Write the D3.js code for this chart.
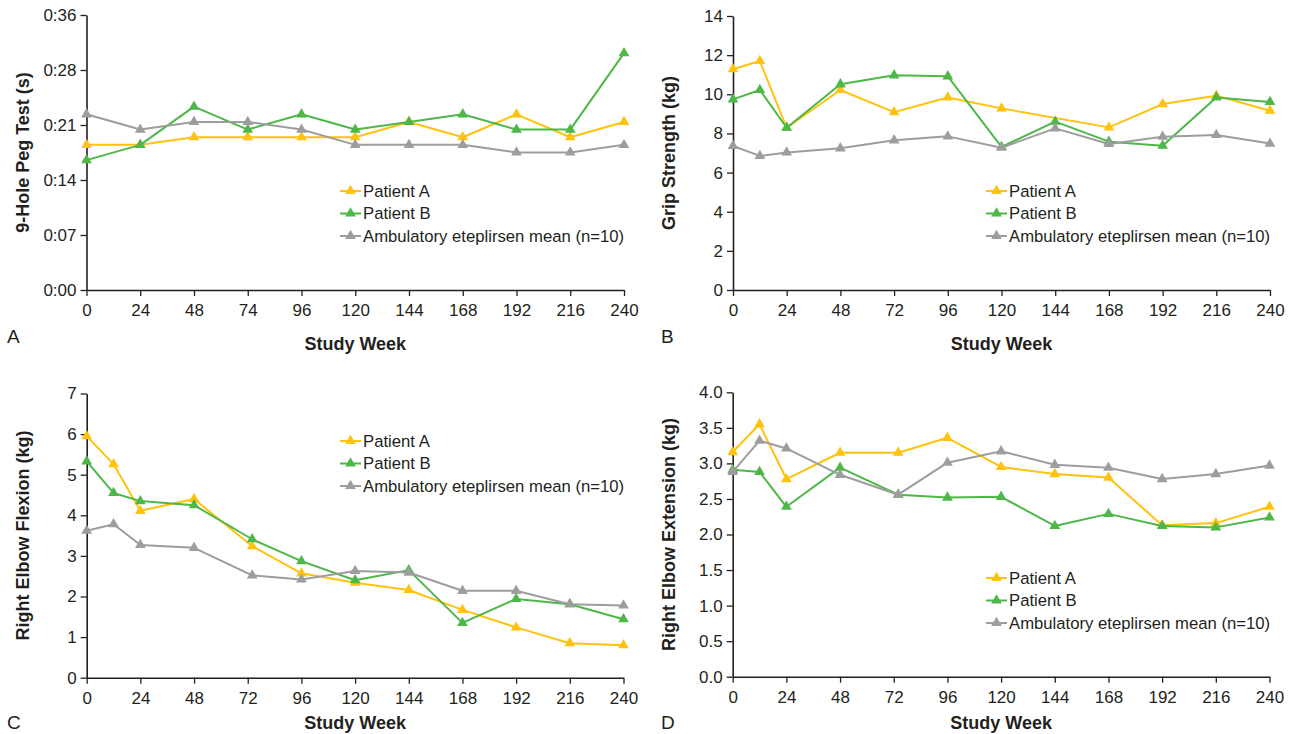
<!DOCTYPE html>
<html>
<head>
<meta charset="utf-8">
<script src="https://cdn.jsdelivr.net/npm/d3@7"></script>
<style>
    body { margin: 0; background: #fff; }
    svg { display: block; font-family: 'Liberation Sans', Arial, sans-serif; }
</style>
</head>
<body>
<svg width="1294" height="734"></svg>
<script>
// week columns
const weeksA = [0, 24, 48, 74, 96, 120, 144, 168, 192, 216, 240];
const weeksB = [0, 12, 24, 48, 72, 96, 120, 144, 168, 192, 216, 240];
const weeksCD = [0, 12, 24, 48, 74, 96, 120, 144, 168, 192, 216, 240];
const xTicks = [0, 24, 48, 72, 96, 120, 144, 168, 192, 216, 240];

const seriesNames = ['Patient A', 'Patient B', 'Ambulatory eteplirsen mean (n=10)'];
const seriesColors = ['#FFC20E', '#4DB848', '#9D9D9D'];

// A: 9-hole peg test (seconds)
const pegA = [19, 19, 20, 20, 20, 20, 22, 20, 23, 20, 22];
const pegB = [17, 19, 24, 21, 23, 21, 22, 23, 21, 21, 31];
const pegMean = [23, 21, 22, 22, 21, 19, 19, 19, 18, 18, 19];
const pegTicks = [0, 7.2, 14.4, 21.6, 28.8, 36];
const pegTickLabels = ['0:00', '0:07', '0:14', '0:21', '0:28', '0:36'];

// B: grip strength (kg) - patient A has no value at week 144
const gripA = [11.28, 11.7, 8.29, 10.22, 9.09, 9.84, 9.28, null, 8.31, 9.5, 9.93, 9.16];
const gripB = [9.74, 10.22, 8.29, 10.51, 10.97, 10.92, 7.31, 8.6, 7.58, 7.37, 9.84, 9.61];
const gripMean = [7.36, 6.85, 7.03, 7.24, 7.65, 7.85, 7.27, 8.26, 7.46, 7.83, 7.92, 7.48];

// C: right elbow flexion (kg)
const flexA = [5.95, 5.26, 4.11, 4.4, 3.24, 2.57, 2.34, 2.16, 1.67, 1.24, 0.85, 0.8];
const flexB = [5.33, 4.55, 4.35, 4.25, 3.41, 2.87, 2.4, 2.65, 1.35, 1.94, 1.81, 1.44];
const flexMean = [3.62, 3.78, 3.27, 3.2, 2.52, 2.42, 2.63, 2.59, 2.14, 2.14, 1.81, 1.78];

// D: right elbow extension (kg)
const extA = [3.16, 3.55, 2.78, 3.15, 3.15, 3.36, 2.95, 2.85, 2.8, 2.13, 2.16, 2.39];
const extB = [2.91, 2.88, 2.39, 2.94, 2.56, 2.52, 2.53, 2.12, 2.29, 2.12, 2.1, 2.24];
const extMean = [2.88, 3.32, 3.21, 2.84, 2.56, 3.01, 3.17, 2.98, 2.94, 2.78, 2.85, 2.97];

const ink = '#231F20';
const svg = d3.select('svg');

const panels = [
    {
        letter: 'A', left: 86.5, right: 624, top: 15, bottom: 290,
        weeks: weeksA, categorical: true,
        series: [pegA, pegB, pegMean],
        yMax: 36, yTicks: pegTicks, yFormat: (d, i) => pegTickLabels[i],
        yLabel: '9-Hole Peg Test (s)', yLabelX: 23,
        legendX: 340, legendY: 191,
        letterX: 7, letterY: 343, titleY: 350
    },
    {
        letter: 'B', left: 733, right: 1270, top: 16, bottom: 290,
        weeks: weeksB,
        series: [gripA, gripB, gripMean],
        yMax: 14, yTicks: d3.range(0, 15, 2), yFormat: d3.format('d'),
        yLabel: 'Grip Strength (kg)', yLabelX: 669,
        legendX: 986, legendY: 191,
        letterX: 661, letterY: 343, titleY: 350
    },
    {
        letter: 'C', left: 86.7, right: 623.5, top: 393.5, bottom: 677.7,
        weeks: weeksCD,
        series: [flexA, flexB, flexMean],
        yMax: 7, yTicks: d3.range(0, 8, 1), yFormat: d3.format('d'),
        yLabel: 'Right Elbow Flexion (kg)', yLabelX: 23,
        legendX: 340, legendY: 441,
        letterX: 7, letterY: 729, titleY: 729
    },
    {
        letter: 'D', left: 732.7, right: 1269.5, top: 392.3, bottom: 676.7,
        weeks: weeksCD,
        series: [extA, extB, extMean],
        yMax: 4, yTicks: d3.range(0, 4.01, 0.5), yFormat: d3.format('.1f'),
        yLabel: 'Right Elbow Extension (kg)', yLabelX: 669,
        legendX: 986, legendY: 578,
        letterX: 661, letterY: 729, titleY: 729
    }
];

const triangle = d3.symbol().type(d3.symbolTriangle).size(50);

panels.forEach((p) => {
    const g = svg.append('g');

    const xScale = p.categorical
        ? d3.scalePoint().domain(p.weeks).range([p.left, p.right])
        : d3.scaleLinear().domain([0, 240]).range([p.left, p.right]);
    const yScale = d3.scaleLinear().domain([0, p.yMax]).range([p.bottom, p.top]);

    // axes
    const xAxis = p.categorical
        ? d3.axisBottom(xScale).tickSizeInner(6).tickSizeOuter(0).tickPadding(8)
        : d3.axisBottom(xScale).tickValues(xTicks).tickFormat(d3.format('d'))
              .tickSizeInner(6).tickSizeOuter(0).tickPadding(8);
    const xg = g.append('g').attr('transform', `translate(0,${p.bottom})`).call(xAxis);

    const yAxis = d3.axisLeft(yScale).tickValues(p.yTicks).tickFormat(p.yFormat)
        .tickSizeInner(6).tickSizeOuter(0).tickPadding(4);
    const yg = g.append('g').attr('transform', `translate(${p.left},0)`).call(yAxis);

    [xg, yg].forEach((ax) => {
        ax.select('.domain').attr('stroke', ink).attr('stroke-width', 1.6);
        ax.selectAll('.tick line').attr('stroke', ink).attr('stroke-width', 1.3);
        ax.selectAll('.tick text')
            .attr('fill', ink)
            .style('font-size', '17px')
            .style('font-family', "'Liberation Sans', Arial, sans-serif");
    });

    // axis titles
    g.append('text')
        .attr('x', (p.left + p.right) / 2)
        .attr('y', p.titleY)
        .attr('text-anchor', 'middle')
        .attr('fill', ink)
        .style('font-size', '18px')
        .style('font-weight', 'bold')
        .text('Study Week');

    g.append('text')
        .attr('transform', `translate(${p.yLabelX},${(p.top + p.bottom) / 2}) rotate(-90)`)
        .attr('text-anchor', 'middle')
        .attr('dominant-baseline', 'central')
        .attr('fill', ink)
        .style('font-size', '18px')
        .style('font-weight', 'bold')
        .text(p.yLabel);

    g.append('text')
        .attr('x', p.letterX)
        .attr('y', p.letterY)
        .attr('fill', ink)
        .style('font-size', '19px')
        .text(p.letter);

    // lines + markers
    const line = d3.line()
        .x((d) => xScale(d.week))
        .y((d) => yScale(d.value));

    p.series.forEach((values, si) => {
        const pts = values
            .map((v, i) => ({ week: p.weeks[i], value: v }))
            .filter((d) => d.value != null);

        g.append('path')
            .attr('d', line(pts))
            .attr('fill', 'none')
            .attr('stroke', seriesColors[si])
            .attr('stroke-width', 2)
            .attr('stroke-linejoin', 'round');

        g.selectAll(null)
            .data(pts)
            .join('path')
            .attr('d', triangle)
            .attr('transform', (d) => `translate(${xScale(d.week)},${yScale(d.value)})`)
            .attr('fill', seriesColors[si]);
    });

    // legend
    seriesNames.forEach((name, i) => {
        const ly = p.legendY + i * 22.5;
        g.append('line')
            .attr('x1', p.legendX).attr('x2', p.legendX + 21)
            .attr('y1', ly).attr('y2', ly)
            .attr('stroke', seriesColors[i])
            .attr('stroke-width', 2);
        g.append('path')
            .attr('d', triangle)
            .attr('transform', `translate(${p.legendX + 10.5},${ly})`)
            .attr('fill', seriesColors[i]);
        g.append('text')
            .attr('x', p.legendX + 23)
            .attr('y', ly)
            .attr('dominant-baseline', 'central')
            .attr('fill', ink)
            .style('font-size', '16.7px')
            .text(name);
    });
});
</script>
</body>
</html>
